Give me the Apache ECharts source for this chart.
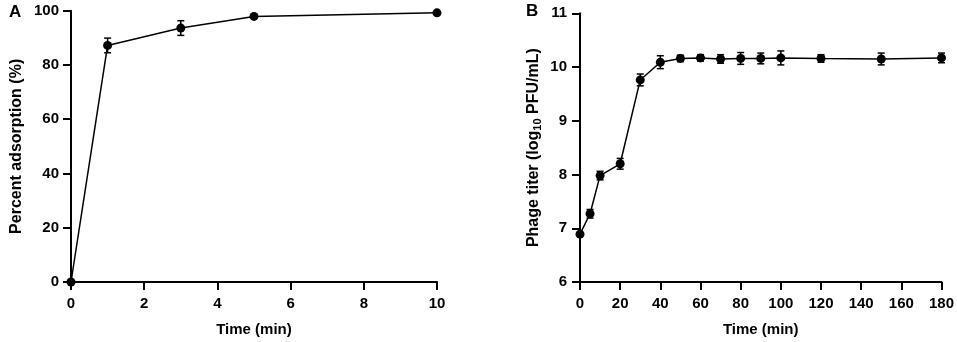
<!DOCTYPE html>
<html>
<head>
<meta charset="utf-8">
<script src="https://cdn.jsdelivr.net/npm/echarts@6/dist/echarts.min.js"></script>
<style>html,body{margin:0;padding:0;background:#fff}#c{width:957px;height:342px}</style>
</head>
<body>
<div id="c"></div>
<script>
// Panel A: adsorption
const timeA = [0, 1, 3, 5, 10];
const meanA = [0, 87.2, 93.6, 97.9, 99.2];
const errA  = [0, 2.7, 2.7, 0.5, 0.4];
const ticksAX = [0, 2, 4, 6, 8, 10];
const ticksAY = [0, 20, 40, 60, 80, 100];

// Panel B: one-step growth
const timeB = [0, 5, 10, 20, 30, 40, 50, 60, 70, 80, 90, 100, 120, 150, 180];
const meanB = [6.89, 7.27, 7.98, 8.20, 9.76, 10.09, 10.16, 10.17, 10.15, 10.16, 10.16, 10.17, 10.16, 10.15, 10.17];
const errB  = [0.03, 0.08, 0.08, 0.10, 0.11, 0.12, 0.06, 0.06, 0.08, 0.11, 0.10, 0.13, 0.07, 0.11, 0.09];
const ticksBX = [0, 20, 40, 60, 80, 100, 120, 140, 160, 180];
const ticksBY = [6, 7, 8, 9, 10, 11];

const FONT = "'Liberation Sans', Arial, Helvetica, sans-serif";
const FS = 15;

function pairs(xs, ys) { return xs.map((x, i) => [x, ys[i]]); }
function errData(xs, ys, es) { return xs.map((x, i) => [x, ys[i] - es[i], ys[i] + es[i]]); }

function renderErr(params, api) {
  const x = api.value(0);
  const lo = api.coord([x, api.value(1)]);
  const hi = api.coord([x, api.value(2)]);
  const hw = 3.5;
  const style = { stroke: '#000', lineWidth: 1.5, fill: null };
  return {
    type: 'group',
    children: [
      { type: 'line', shape: { x1: lo[0], y1: lo[1], x2: hi[0], y2: hi[1] }, style },
      { type: 'line', shape: { x1: lo[0] - hw, y1: lo[1], x2: lo[0] + hw, y2: lo[1] }, style },
      { type: 'line', shape: { x1: hi[0] - hw, y1: hi[1], x2: hi[0] + hw, y2: hi[1] }, style }
    ]
  };
}

function axisBase(nameSize) {
  return {
    type: 'value',
    splitLine: { show: false },
    axisLine: { show: true, onZero: false, lineStyle: { color: '#000', width: 2 } },
    axisTick: { show: true, length: 8, lineStyle: { color: '#000', width: 2 } },
    axisLabel: { color: '#000', fontWeight: 'bold', fontSize: FS, fontFamily: FONT },
    nameLocation: 'middle',
    nameTextStyle: { color: '#000', fontWeight: 'bold', fontSize: nameSize, fontFamily: FONT }
  };
}

const chart = echarts.init(document.getElementById('c'), null, { renderer: 'canvas' });

const xA = Object.assign(axisBase(15), {
  gridIndex: 0, min: ticksAX[0], max: ticksAX[ticksAX.length - 1], interval: ticksAX[1] - ticksAX[0],
  name: 'Time (min)', nameGap: 40
});
xA.axisLabel.margin = 14;
const yA = Object.assign(axisBase(16), {
  gridIndex: 0, min: ticksAY[0], max: ticksAY[ticksAY.length - 1], interval: ticksAY[1] - ticksAY[0],
  name: 'Percent adsorption (%)', nameGap: 46
});
yA.axisLabel.margin = 12;
const xB = Object.assign(axisBase(15), {
  gridIndex: 1, min: ticksBX[0], max: ticksBX[ticksBX.length - 1], interval: ticksBX[1] - ticksBX[0],
  name: 'Time (min)', nameGap: 40
});
xB.axisLabel.margin = 14;
const yB = Object.assign(axisBase(16), {
  gridIndex: 1, min: ticksBY[0], max: ticksBY[ticksBY.length - 1], interval: ticksBY[1] - ticksBY[0],
  name: 'Phage titer (log{sub|10} PFU/mL)', nameGap: 37
});
yB.axisLabel.margin = 13;
yB.nameTextStyle.rich = {
  sub: { fontSize: 11, fontWeight: 'bold', fontFamily: FONT, color: '#000', verticalAlign: 'bottom', padding: [8, 0, 0, 0] }
};

chart.setOption({
  animation: false,
  backgroundColor: '#fff',
  grid: [
    { left: 71, right: 520, top: 10.7, bottom: 57.7 },
    { left: 580, right: 14.3, top: 13.3, bottom: 57.7 }
  ],
  xAxis: [xA, xB],
  yAxis: [yA, yB],
  graphic: [
    { type: 'text', left: 9, top: 4, style: { text: 'A', font: "bold 17px " + FONT, fill: '#000' } },
    { type: 'text', left: 526, top: 3, style: { text: 'B', font: "bold 17px " + FONT, fill: '#000' } }
  ],
  series: [
    { type: 'custom', xAxisIndex: 0, yAxisIndex: 0, renderItem: renderErr, data: errData(timeA, meanA, errA), clip: false, z: 3 },
    { type: 'line', xAxisIndex: 0, yAxisIndex: 0, data: pairs(timeA, meanA), symbol: 'circle', symbolSize: 9,
      itemStyle: { color: '#000' }, lineStyle: { color: '#000', width: 1.5 }, clip: false, z: 4 },
    { type: 'custom', xAxisIndex: 1, yAxisIndex: 1, renderItem: renderErr, data: errData(timeB, meanB, errB), clip: false, z: 3 },
    { type: 'line', xAxisIndex: 1, yAxisIndex: 1, data: pairs(timeB, meanB), symbol: 'circle', symbolSize: 9,
      itemStyle: { color: '#000' }, lineStyle: { color: '#000', width: 1.5 }, clip: false, z: 4 }
  ]
});
</script>
</body>
</html>
